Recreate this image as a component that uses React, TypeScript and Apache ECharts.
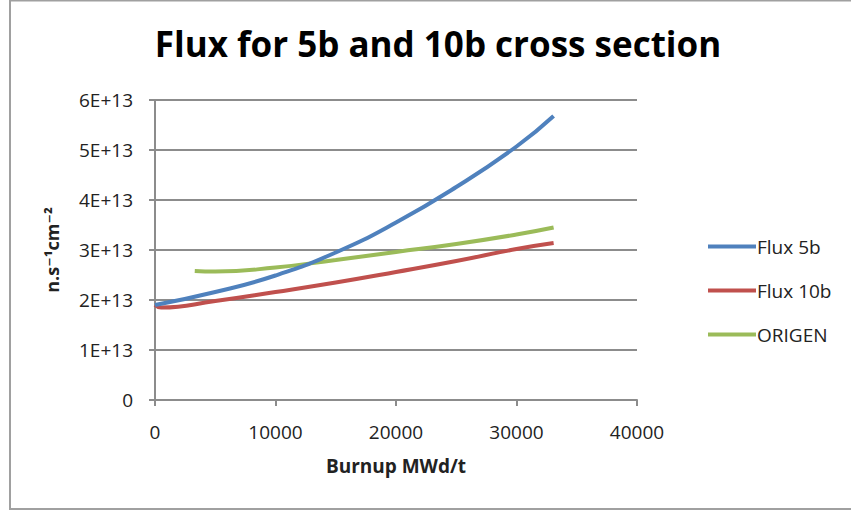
import React, { useEffect, useRef } from "react";
import * as echarts from "echarts";

// Burnup (MWd/t) and neutron flux (n·s⁻¹·cm⁻²)
const flux5bBurnup = [0, 5000, 10000, 15000, 20000, 25000, 30000, 33080];
const flux5bValues = [1.9e13, 2.16e13, 2.49e13, 2.95e13, 3.55e13, 4.26e13, 5.07e13, 5.68e13];

const flux10bBurnup = [0, 500, 5000, 10000, 15000, 20000, 25000, 30000, 33080];
const flux10bValues = [1.9e13, 1.85e13, 1.98e13, 2.16e13, 2.35e13, 2.56e13, 2.78e13, 3.02e13, 3.14e13];

const origenBurnup = [3300, 5000, 10000, 15000, 20000, 25000, 30000, 33080];
const origenValues = [2.58e13, 2.57e13, 2.65e13, 2.8e13, 2.96e13, 3.12e13, 3.31e13, 3.45e13];

const seriesNames = ["Flux 5b", "Flux 10b", "ORIGEN"];
const seriesColors = ["#4f81bd", "#c0504d", "#9bbb59"];

const zip = (xs: number[], ys: number[]) => xs.map((x, i) => [x, ys[i]]);

const formatY = (v: number) => (v === 0 ? "0" : `${Math.round(v / 1e13)}E+13`);

export default function App() {
  const ref = useRef<HTMLDivElement>(null);

  useEffect(() => {
    if (!ref.current) return;
    const chart = echarts.init(ref.current, undefined, { renderer: "svg" });
    const font = "'Open Sans', 'DejaVu Sans', sans-serif";
    const gray = "#8c8c8c";
    const data = [zip(flux5bBurnup, flux5bValues), zip(flux10bBurnup, flux10bValues), zip(origenBurnup, origenValues)];

    chart.setOption({
      animation: false,
      backgroundColor: "#ffffff",
      title: {
        text: "Flux for 5b and 10b cross section",
        left: 433,
        textAlign: "center",
        top: 21,
        textStyle: { fontFamily: font, fontWeight: "bold", fontSize: 35, color: "#000" },
      },
      grid: { left: 155, top: 100, width: 482, height: 300 },
      legend: {
        orient: "vertical",
        left: 703,
        top: 232,
        itemGap: 25,
        itemWidth: 48,
        itemHeight: 4,
        icon: "rect",
        textStyle: { fontFamily: font, fontSize: 19, color: "#222", padding: [0, 0, 0, -4] },
        data: seriesNames,
      },
      xAxis: {
        type: "value",
        min: 0,
        max: 40000,
        interval: 10000,
        name: "Burnup MWd/t",
        nameLocation: "middle",
        nameGap: 56,
        nameTextStyle: { fontFamily: font, fontWeight: "bold", fontSize: 19, color: "#222" },
        axisLine: { lineStyle: { color: gray, width: 2 } },
        axisTick: { show: true, length: 6, lineStyle: { color: gray, width: 2 } },
        axisLabel: { fontFamily: font, fontSize: 19, color: "#222", margin: 22, formatter: (v: number) => String(v) },
        splitLine: { show: false },
      },
      yAxis: {
        type: "value",
        min: 0,
        max: 6e13,
        interval: 1e13,
        name: "n.s⁻¹cm⁻²",
        nameLocation: "middle",
        nameGap: 94,
        nameRotate: 90,
        nameTextStyle: { fontFamily: font, fontWeight: "bold", fontSize: 18, color: "#222" },
        axisLine: { show: true, lineStyle: { color: gray, width: 2 } },
        axisTick: { show: true, length: 6, lineStyle: { color: gray, width: 2 } },
        axisLabel: { fontFamily: font, fontSize: 19, color: "#222", margin: 22, formatter: formatY },
        splitLine: { lineStyle: { color: gray, width: 2 } },
      },
      series: seriesNames.map((name, i) => ({
        name,
        type: "line",
        data: data[i],
        smooth: 0.5,
        showSymbol: false,
        symbol: "none",
        color: seriesColors[i],
        lineStyle: { width: 4, color: seriesColors[i] },
        z: 3 - i,
      })),
      graphic: [
        {
          type: "polyline",
          shape: { points: [[860, 0.5], [10, 0.5], [10, 509], [860, 509]] },
          style: { stroke: "#a0a0a0", lineWidth: 2, fill: "none" },
          silent: true,
        },
      ],
    });

    return () => chart.dispose();
  }, []);

  return <div ref={ref} style={{ position: "fixed", left: 0, top: 0, width: 851, height: 510 }} />;
}
